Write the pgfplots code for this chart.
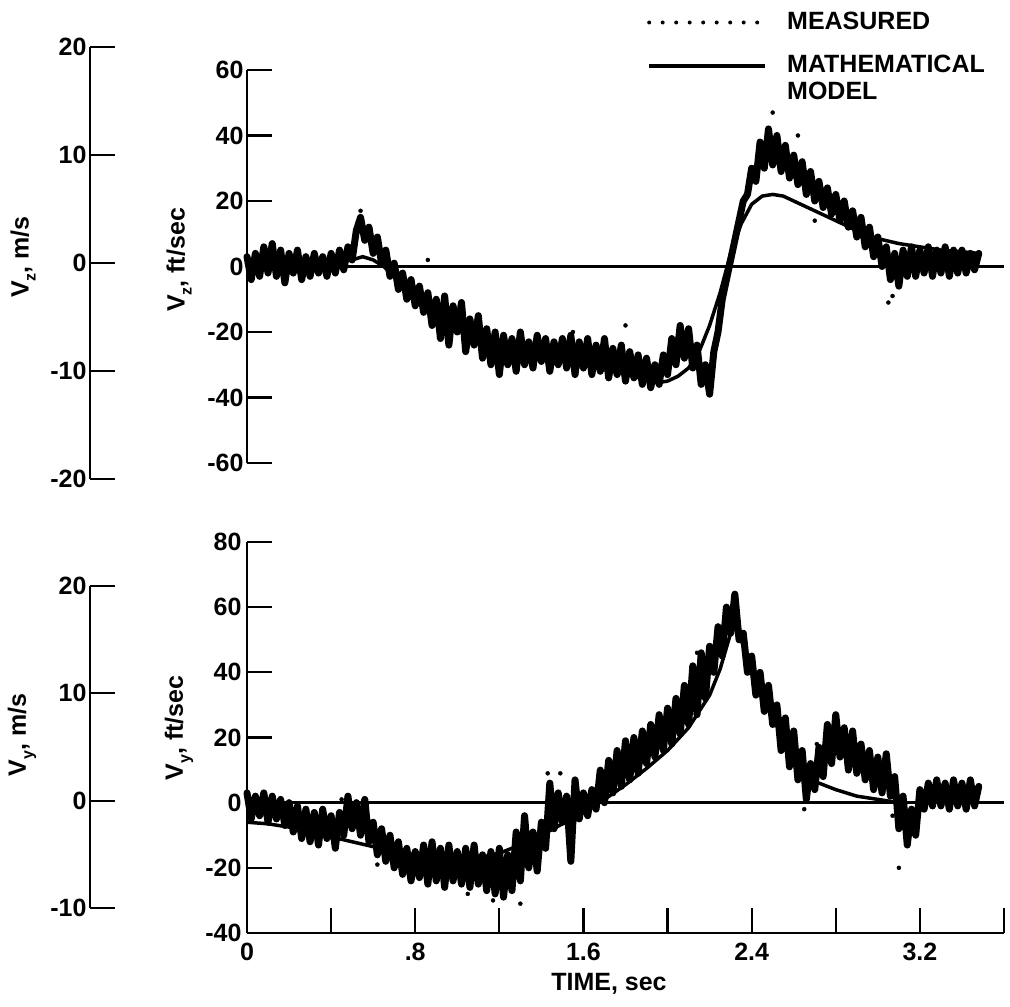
\documentclass[border=0pt]{standalone}
\usepackage{fontspec}
\setmainfont{Liberation Sans}
\usepackage{pgfplots}
\pgfplotsset{compat=1.18}

\newcommand{\lbl}{\fontsize{25}{25}\selectfont\bfseries}
\newcommand{\sub}[1]{\raisebox{-0.28em}{\fontsize{16}{16}\selectfont\bfseries #1}}

\pgfplotsset{
  panel/.style={
    scale only axis,
    axis line style={line width=2.6pt},
    tick style={line width=2.2pt, black},
    major tick length=25pt,
    tick label style={font=\lbl},
    clip=false,
  },
  measured/.style={line width=7pt, line join=round, line cap=round, forget plot},
  model/.style={line width=3.5pt, line join=round, forget plot},
  zeroline/.style={line width=3.5pt, forget plot},
}

\begin{document}
\begin{tikzpicture}
\useasboundingbox (0,0) rectangle (1010pt,1007pt);

% ---------- vertical velocity, metric scale ----------
\begin{axis}[panel, at={(90pt,528pt)}, anchor=south west,
  width=1pt, height=432pt, xmin=0, xmax=1, ymin=-20, ymax=20,
  axis x line=none, axis y line*=left, ytick pos=left, tick align=inside,
  ytick={-20,-10,0,10,20}, yticklabels={-20,-10,0,10,20}]
\end{axis}

% ---------- vertical velocity, ft/sec ----------
\begin{axis}[panel, at={(247pt,544pt)}, anchor=south west,
  width=757pt, height=393pt, xmin=0, xmax=3.6, ymin=-60, ymax=60,
  axis x line=none, axis y line*=left, ytick pos=left, tick align=inside,
  ytick={-60,-40,-20,0,20,40,60}, yticklabels={-60,-40,-20,0,20,40,60},
  legend style={draw=none, fill=none, font=\lbl, inner sep=0pt, row sep=0pt,
    cells={anchor=base west}, nodes={inner sep=0pt},
    /tikz/every odd column/.append style={column sep=20pt},
    at={(axis description cs:0.5284,1.148)}, anchor=north west},
  legend image code/.code={\draw[#1] (0pt,7pt) -- (116pt,7pt);}]
\addplot[zeroline] coordinates {(0,0) (3.6,0)};
\addplot[measured] table {
t v
0.00 3
0.02 -4
0.04 4
0.06 -3
0.08 6
0.10 -2
0.12 7
0.14 -3
0.16 5
0.18 -5
0.20 4
0.22 -2
0.24 5
0.26 -4
0.28 3
0.30 -3
0.32 4
0.34 -2
0.36 3
0.38 -3
0.40 4
0.42 -2
0.44 5
0.46 -1
0.48 6
0.50 2
0.52 11
0.54 15
0.56 8
0.58 12
0.60 4
0.62 9
0.64 1
0.66 5
0.68 -3
0.70 1
0.72 -7
0.74 -2
0.76 -10
0.78 -4
0.80 -12
0.82 -6
0.84 -14
0.86 -8
0.88 -18
0.90 -10
0.92 -22
0.94 -9
0.96 -24
0.98 -12
1.00 -20
1.02 -11
1.04 -26
1.06 -16
1.08 -24
1.10 -15
1.12 -28
1.14 -19
1.16 -30
1.18 -20
1.20 -33
1.22 -21
1.24 -30
1.26 -22
1.28 -32
1.30 -20
1.32 -30
1.34 -23
1.36 -31
1.38 -21
1.40 -29
1.42 -22
1.44 -32
1.46 -23
1.48 -30
1.50 -22
1.52 -31
1.54 -21
1.56 -33
1.58 -23
1.60 -31
1.62 -22
1.64 -33
1.66 -24
1.68 -32
1.70 -22
1.72 -34
1.74 -25
1.76 -33
1.78 -24
1.80 -35
1.82 -26
1.84 -34
1.86 -27
1.88 -36
1.90 -28
1.92 -37
1.94 -30
1.96 -36
1.98 -27
2.00 -33
2.02 -22
2.04 -30
2.06 -18
2.08 -28
2.10 -19
2.12 -31
2.14 -24
2.16 -36
2.18 -30
2.20 -39
2.22 -26
2.24 -20
2.26 -10
2.28 -4
2.30 2
2.32 8
2.34 14
2.36 20
2.38 22
2.40 30
2.42 26
2.44 38
2.46 30
2.48 42
2.50 31
2.52 40
2.54 29
2.56 37
2.58 27
2.60 34
2.62 25
2.64 32
2.66 22
2.68 29
2.70 20
2.72 26
2.74 18
2.76 24
2.78 16
2.80 22
2.82 14
2.84 20
2.86 12
2.88 17
2.90 9
2.92 15
2.94 6
2.96 12
2.98 3
3.00 9
3.02 0
3.04 6
3.06 -4
3.08 4
3.10 -6
3.12 5
3.14 -3
3.16 6
3.18 -3
3.20 5
3.22 -2
3.24 6
3.26 -3
3.28 5
3.30 -2
3.32 6
3.34 -3
3.36 5
3.38 -2
3.40 5
3.42 -2
3.44 4
3.46 -1
3.48 4
};
\addplot[only marks, mark=*, mark size=2pt, forget plot] coordinates {
(0.54,17) (0.86,2) (1.55,-20) (1.80,-18) (2.50,47) (2.62,40) (2.70,14) (3.05,-11) (3.07,-9)
};
\addplot[model] table {
t v
0.00 0
0.10 0.5
0.20 1
0.30 1
0.40 1
0.50 2
0.55 3
0.60 2
0.65 0
0.70 -3
0.80 -8
0.90 -12
1.00 -16
1.10 -20
1.20 -23
1.30 -25.5
1.40 -27
1.50 -28.5
1.60 -30
1.70 -31.5
1.80 -33
1.90 -34.5
1.95 -35.5
2.00 -35
2.05 -33.5
2.10 -31
2.15 -26
2.20 -18
2.25 -8
2.30 4
2.35 13
2.40 19
2.45 21.5
2.50 22
2.55 21.5
2.60 20
2.70 17
2.80 14
2.90 11
3.00 8.5
3.10 7
3.20 6
3.30 5
3.40 4.5
3.48 4
};
\addlegendimage{line width=4pt, line cap=round, dash pattern=on 0pt off 13.5pt}
\addlegendentry{MEASURED}
\addlegendimage{line width=4pt}
\addlegendentry{\rule{0pt}{42pt}MATHEMATICAL}
\addlegendimage{empty legend}
\addlegendentry{\rule{0pt}{25pt}MODEL}
\end{axis}

% ---------- lateral velocity, metric scale ----------
\begin{axis}[panel, at={(90pt,99pt)}, anchor=south west,
  width=1pt, height=322pt, xmin=0, xmax=1, ymin=-10, ymax=20,
  axis x line=none, axis y line*=left, ytick pos=left, tick align=inside,
  ytick={-10,0,10,20}, yticklabels={-10,0,10,20}]
\end{axis}

% ---------- lateral velocity, ft/sec ----------
\begin{axis}[panel, at={(247pt,74pt)}, anchor=south west,
  width=757pt, height=391pt, xmin=0, xmax=3.6, ymin=-40, ymax=80,
  axis x line*=bottom, axis y line*=left, xtick pos=bottom, ytick pos=left,
  tick align=inside,
  ytick={-40,-20,0,20,40,60,80}, yticklabels={-40,-20,0,20,40,60,80},
  xtick={0,0.4,0.8,1.2,1.6,2.0,2.4,2.8,3.2,3.6},
  xticklabels={0,,.8,,1.6,,2.4,,3.2,},
  xticklabel style={yshift=-7pt},
  yticklabel style={xshift=-2pt}]
\addplot[zeroline] coordinates {(0,0) (3.6,0)};
\addplot[measured] table {
t v
0.00 3
0.02 -5
0.04 2
0.06 -4
0.08 3
0.10 -6
0.12 2
0.14 -5
0.16 1
0.18 -7
0.20 0
0.22 -9
0.24 -1
0.26 -11
0.28 -2
0.30 -12
0.32 -3
0.34 -13
0.36 -2
0.38 -11
0.40 -4
0.42 -14
0.44 -3
0.46 -10
0.48 2
0.50 -8
0.52 0
0.54 -10
0.56 1
0.58 -12
0.60 -6
0.62 -16
0.64 -8
0.66 -18
0.68 -10
0.70 -20
0.72 -12
0.74 -22
0.76 -14
0.78 -24
0.80 -15
0.82 -23
0.84 -13
0.86 -25
0.88 -12
0.90 -24
0.92 -14
0.94 -26
0.96 -13
0.98 -24
1.00 -15
1.02 -25
1.04 -14
1.06 -26
1.08 -13
1.10 -25
1.12 -16
1.14 -27
1.16 -15
1.18 -28
1.20 -14
1.22 -29
1.24 -16
1.26 -27
1.28 -9
1.30 -24
1.32 -4
1.34 -20
1.36 -9
1.38 -21
1.40 -6
1.42 -14
1.44 6
1.46 -8
1.48 3
1.50 -6
1.52 2
1.54 -18
1.56 7
1.58 -5
1.60 3
1.62 -4
1.64 4
1.66 -2
1.68 10
1.70 0
1.72 13
1.74 3
1.76 16
1.78 5
1.80 19
1.82 7
1.84 20
1.86 9
1.88 22
1.90 12
1.92 24
1.94 14
1.96 27
1.98 16
2.00 29
2.02 18
2.04 32
2.06 21
2.08 36
2.10 24
2.12 42
2.14 27
2.16 46
2.18 32
2.20 48
2.22 40
2.24 54
2.26 45
2.28 60
2.30 52
2.32 64
2.34 50
2.36 52
2.38 40
2.40 45
2.42 33
2.44 40
2.46 28
2.48 36
2.50 24
2.52 30
2.54 16
2.56 26
2.58 11
2.60 22
2.62 7
2.64 16
2.66 1
2.68 12
2.70 4
2.72 17
2.74 8
2.76 24
2.78 12
2.80 27
2.82 14
2.84 23
2.86 10
2.88 22
2.90 9
2.92 18
2.94 7
2.96 16
2.98 4
3.00 14
3.02 3
3.04 15
3.06 2
3.08 8
3.10 -8
3.12 2
3.14 -13
3.16 -2
3.18 -10
3.20 4
3.22 -2
3.24 6
3.26 -1
3.28 7
3.30 -1
3.32 6
3.34 -2
3.36 7
3.38 -1
3.40 6
3.42 -2
3.44 7
3.46 -1
3.48 5
};
\addplot[only marks, mark=*, mark size=2pt, forget plot] coordinates {
(0.45,1) (0.62,-19) (1.05,-28) (1.17,-30) (1.30,-31) (1.43,9) (1.49,9) (2.14,46) (2.16,40) (2.65,-2) (2.71,18) (3.07,-4) (3.10,-20)
};
\addplot[model] table {
t v
0.00 -6
0.10 -6.5
0.20 -7.5
0.30 -9
0.40 -10.5
0.50 -12
0.60 -13.5
0.70 -15
0.80 -16
0.90 -17
1.00 -17.5
1.10 -17
1.20 -15.5
1.30 -13
1.40 -10
1.50 -6.5
1.60 -3
1.70 1
1.80 5.5
1.90 10.5
2.00 16
2.10 23
2.20 33
2.25 41
2.30 52
2.32 56
2.35 50
2.40 41
2.45 33
2.50 26
2.55 20
2.60 14
2.65 9
2.70 6.5
2.80 4
2.90 2
3.00 1
3.10 0
};
\end{axis}

% ---------- axis titles ----------
\node[rotate=90, font=\lbl] at (23pt,750pt) {V\sub{z}, m/s};
\node[rotate=90, font=\lbl] at (179pt,747pt) {V\sub{z}, ft/sec};
\node[rotate=90, font=\lbl] at (22pt,272pt) {V\sub{y}, m/s};
\node[rotate=90, font=\lbl] at (179pt,279pt) {V\sub{y}, ft/sec};
\node[font=\lbl] at (609pt,23pt) {TIME, sec};
\end{tikzpicture}
\end{document}
